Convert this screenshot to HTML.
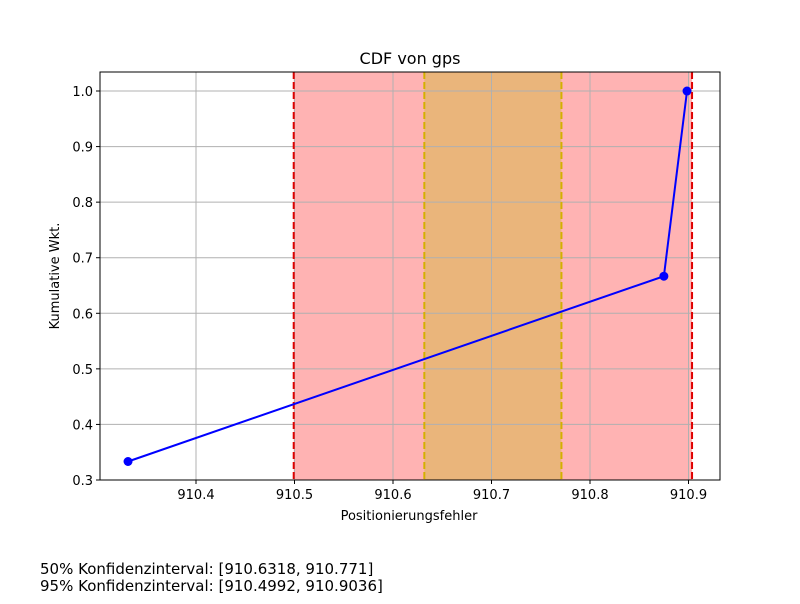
<!DOCTYPE html>
<html><head><meta charset="utf-8"><style>
body{margin:0;background:#fff;font-family:"DejaVu Sans","Liberation Sans",sans-serif}
svg text{font-family:"DejaVu Sans","Liberation Sans",sans-serif}
</style></head><body>
<svg width="800" height="600" xmlns="http://www.w3.org/2000/svg">
<g id="plot"></g>
<text x="410" y="64" font-size="16" text-anchor="middle">CDF von gps</text>
<text x="409" y="520" font-size="13" text-anchor="middle">Positionierungsfehler</text>
<text x="59" y="276" font-size="13" text-anchor="middle" transform="rotate(-90 59 276)">Kumulative Wkt.</text>
<text x="40" y="574" font-size="15">50% Konfidenzinterval: [910.6318, 910.771]</text>
<text x="40" y="591" font-size="15">95% Konfidenzinterval: [910.4992, 910.9036]</text>
</svg>
<script>
const xVals=[910.331,910.875,910.8985];
const yVals=[0.3333,0.6667,1.0];
const xTicks=[910.4,910.5,910.6,910.7,910.8,910.9];
const yTicks=[0.3,0.4,0.5,0.6,0.7,0.8,0.9,1.0];
const ci95=[910.4992,910.9036];
const ci50=[910.6318,910.771];
const L=100,R=720,T=72,B=480;
const xs=v=>196+(v-910.4)*985;
const ys=v=>480-(v-0.3)*555.7;
const g=document.getElementById('plot');
const NS='http://www.w3.org/2000/svg';
function mk(t,a){const e=document.createElementNS(NS,t);for(const k in a)e.setAttribute(k,a[k]);g.appendChild(e);return e;}
let e;
e=mk('rect',{x:xs(ci95[0]),y:T,width:xs(ci95[1])-xs(ci95[0]),height:B-T,fill:'#ffb3b3'});


e=mk('rect',{x:xs(ci50[0]),y:T,width:xs(ci50[1])-xs(ci50[0]),height:B-T,fill:'#eab57b'});


xTicks.forEach(v=>{const x=xs(v);
e=mk('line',{x1:x,x2:x,y1:T,y2:B,stroke:'#b0b0b0','stroke-width':1});


mk('line',{x1:x,x2:x,y1:B,y2:B+4,stroke:'#000'});
e=mk('text',{x:x,y:B+19,'font-size':13,'text-anchor':'middle'});e.textContent=v.toFixed(1);


});
yTicks.forEach(v=>{const y=ys(v);
e=mk('line',{x1:L,x2:R,y1:y,y2:y,stroke:'#b0b0b0','stroke-width':1});


mk('line',{x1:L-4,x2:L,y1:y,y2:y,stroke:'#000'});
e=mk('text',{x:L-7,y:y+5,'font-size':13,'text-anchor':'end'});e.textContent=v.toFixed(1);


});
ci95.forEach(v=>{e=mk('line',{x1:xs(v),x2:xs(v),y1:T,y2:B,stroke:'#e00000','stroke-width':2,'stroke-dasharray':'7,3'});

});
ci50.forEach(v=>{e=mk('line',{x1:xs(v),x2:xs(v),y1:T,y2:B,stroke:'#d4b000','stroke-width':2,'stroke-dasharray':'7,3'});

});
e=mk('polyline',{points:xVals.map((v,i)=>xs(v)+','+ys(yVals[i])).join(' '),fill:'none',stroke:'#0000ff','stroke-width':2});


xVals.forEach((v,i)=>{e=mk('circle',{cx:xs(v),cy:ys(yVals[i]),r:4.5,fill:'#0000ff'});

});
e=mk('rect',{x:L,y:T,width:R-L,height:B-T,fill:'none',stroke:'#000','stroke-width':1});


</script>
</body></html>
